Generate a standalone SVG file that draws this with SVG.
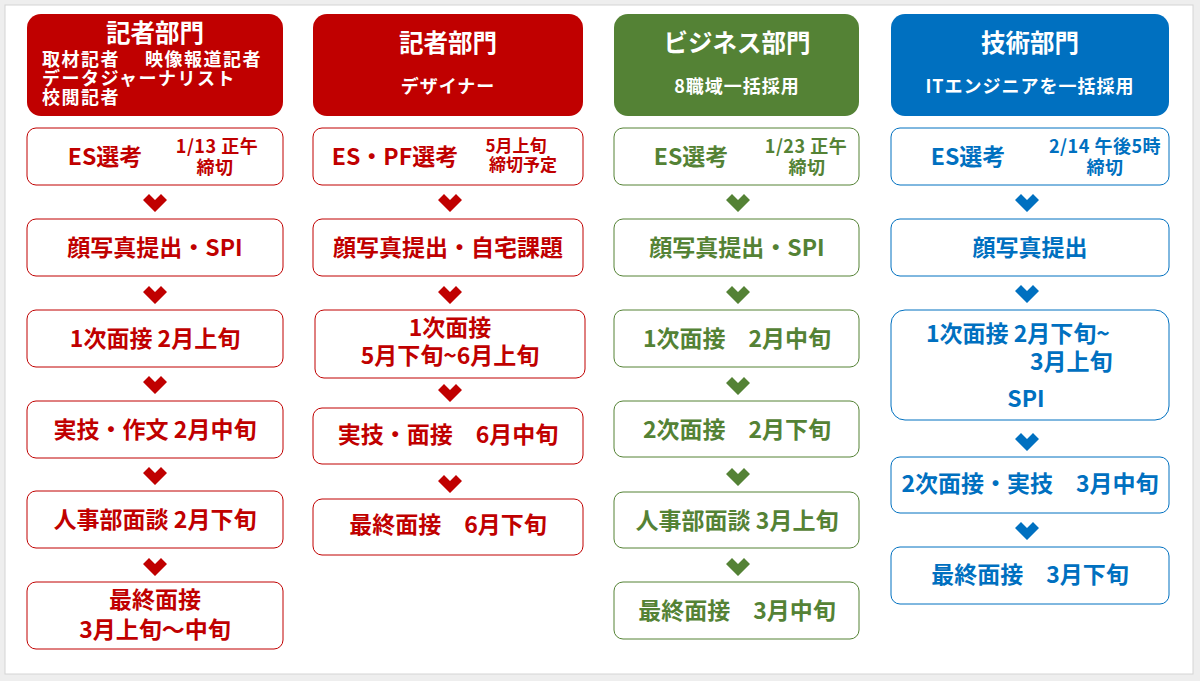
<svg xmlns="http://www.w3.org/2000/svg" xmlns:xlink="http://www.w3.org/1999/xlink" width="1200" height="681" viewBox="0 0 1200 681">
<defs>
<style>
text{font-family:"Noto Sans CJK JP","Noto Sans",sans-serif;font-weight:bold}
.ttl{font-size:24.5px;fill:#fff;text-anchor:middle}
.sub{font-size:18px;fill:#fff;text-anchor:middle;letter-spacing:1px}
.sub1{font-size:18px;fill:#fff;letter-spacing:1.5px}
.st{font-size:23px;text-anchor:middle}
.sm{font-size:18px;text-anchor:middle;letter-spacing:0.5px}
.sm2{font-size:17px;text-anchor:middle}
.r{fill:#C00000}.g{fill:#548235}.b{fill:#0070C0}
.br{fill:#fff;stroke:#C00000;stroke-width:1}
.bg{fill:#fff;stroke:#548235;stroke-width:1}
.bb{fill:#fff;stroke:#0070C0;stroke-width:1}
</style>
<path id="chev" d="M-12,-3 L-6,-9 L0,-3 L6,-9 L12,-3 L0,9 Z"/>
</defs>
<rect x="0" y="0" width="1200" height="681" fill="#eeeeee"/>
<rect x="5" y="5" width="1188" height="669" fill="#ffffff" stroke="#d4d4d4" stroke-width="1"/>

<g id="connectors">
<g class="r">
<use xlink:href="#chev" x="155" y="203"/>
<use xlink:href="#chev" x="155" y="295"/>
<use xlink:href="#chev" x="155" y="385"/>
<use xlink:href="#chev" x="155" y="476"/>
<use xlink:href="#chev" x="155" y="567"/>
<use xlink:href="#chev" x="450" y="203"/>
<use xlink:href="#chev" x="450" y="295"/>
<use xlink:href="#chev" x="450" y="393"/>
<use xlink:href="#chev" x="450" y="484"/>
</g>
<g class="g">
<use xlink:href="#chev" x="738" y="203"/>
<use xlink:href="#chev" x="738" y="295"/>
<use xlink:href="#chev" x="738" y="386"/>
<use xlink:href="#chev" x="738" y="477"/>
<use xlink:href="#chev" x="738" y="567"/>
</g>
<g class="b">
<use xlink:href="#chev" x="1027" y="203"/>
<use xlink:href="#chev" x="1027" y="294"/>
<use xlink:href="#chev" x="1027" y="442"/>
<use xlink:href="#chev" x="1027" y="531"/>
</g>
</g>

<!-- Column 1 -->
<g id="c1-header">
<rect x="27" y="14" width="256" height="102" rx="14" class="r"/>
<text class="ttl" x="155" y="42">記者部門</text>
<text class="sub1" x="42" y="66">取材記者<tspan x="145">映像報道記者</tspan></text>
<text class="sub1" x="42" y="85">データジャーナリスト</text>
<text class="sub1" x="42" y="104">校閲記者</text>
</g>
<g id="c1-es">
<rect x="27" y="128" width="256" height="57" rx="9" class="br"/>
<text class="st r" x="105" y="165">ES選考</text>
<text class="sm r" x="217" y="153">1/13 正午</text>
<text class="sm r" x="215" y="174">締切</text>
</g>
<g id="c1-s2">
<rect x="27" y="219" width="256" height="57" rx="9" class="br"/>
<text class="st r" x="155" y="256">顔写真提出・SPI</text>
</g>
<g id="c1-s3">
<rect x="27" y="310" width="256" height="57" rx="9" class="br"/>
<text class="st r" x="155" y="347">1次面接 2月上旬</text>
</g>
<g id="c1-s4">
<rect x="27" y="401" width="256" height="57" rx="9" class="br"/>
<text class="st r" x="155" y="438">実技・作文 2月中旬</text>
</g>
<g id="c1-s5">
<rect x="27" y="491" width="256" height="57" rx="9" class="br"/>
<text class="st r" x="155" y="528">人事部面談 2月下旬</text>
</g>
<g id="c1-s6">
<rect x="27" y="582" width="256" height="67" rx="9" class="br"/>
<text class="st r" x="155" y="608">最終面接</text>
<text class="st r" x="155" y="638">3月上旬～中旬</text>
</g>

<!-- Column 2 -->
<g id="c2-header">
<rect x="313" y="14" width="270" height="102" rx="14" class="r"/>
<text class="ttl" x="448" y="52">記者部門</text>
<text class="sub" x="448" y="93">デザイナー</text>
</g>
<g id="c2-es">
<rect x="313" y="128" width="270" height="57" rx="9" class="br"/>
<text class="st r" x="395" y="165">ES・PF選考</text>
<text class="sm2 r" x="516" y="152">5月上旬</text>
<text class="sm2 r" x="523" y="171">締切予定</text>
</g>
<g id="c2-s2">
<rect x="313" y="219" width="270" height="57" rx="9" class="br"/>
<text class="st r" x="448" y="256">顔写真提出・自宅課題</text>
</g>
<g id="c2-s3">
<rect x="315" y="310" width="270" height="68" rx="9" class="br"/>
<text class="st r" x="450" y="336">1次面接</text>
<text class="st r" x="450" y="364">5月下旬~6月上旬</text>
</g>
<g id="c2-s4">
<rect x="313" y="408" width="270" height="56" rx="9" class="br"/>
<text class="st r" x="448" y="443">実技・面接　6月中旬</text>
</g>
<g id="c2-s5">
<rect x="313" y="499" width="270" height="56" rx="9" class="br"/>
<text class="st r" x="448" y="533">最終面接　6月下旬</text>
</g>

<!-- Column 3 -->
<g id="c3-header">
<rect x="614" y="14" width="245" height="102" rx="14" class="g"/>
<text class="ttl" x="737" y="52">ビジネス部門</text>
<text class="sub" x="737" y="93">8職域一括採用</text>
</g>
<g id="c3-es">
<rect x="614" y="128" width="245" height="57" rx="9" class="bg"/>
<text class="st g" x="691" y="165">ES選考</text>
<text class="sm g" x="806" y="153">1/23 正午</text>
<text class="sm g" x="807" y="174">締切</text>
</g>
<g id="c3-s2">
<rect x="614" y="219" width="245" height="57" rx="9" class="bg"/>
<text class="st g" x="737" y="256">顔写真提出・SPI</text>
</g>
<g id="c3-s3">
<rect x="614" y="310" width="245" height="57" rx="9" class="bg"/>
<text class="st g" x="737" y="347">1次面接　2月中旬</text>
</g>
<g id="c3-s4">
<rect x="614" y="401" width="245" height="56" rx="9" class="bg"/>
<text class="st g" x="737" y="438">2次面接　2月下旬</text>
</g>
<g id="c3-s5">
<rect x="614" y="492" width="245" height="56" rx="9" class="bg"/>
<text class="st g" x="737" y="529">人事部面談 3月上旬</text>
</g>
<g id="c3-s6">
<rect x="614" y="582" width="245" height="57" rx="9" class="bg"/>
<text class="st g" x="737" y="619">最終面接　3月中旬</text>
</g>

<!-- Column 4 -->
<g id="c4-header">
<rect x="891" y="14" width="278" height="102" rx="14" class="b"/>
<text class="ttl" x="1030" y="52">技術部門</text>
<text class="sub" x="1030" y="93">ITエンジニアを一括採用</text>
</g>
<g id="c4-es">
<rect x="891" y="128" width="278" height="57" rx="9" class="bb"/>
<text class="st b" x="968" y="165">ES選考</text>
<text class="sm b" x="1105" y="153">2/14 午後5時</text>
<text class="sm b" x="1105" y="174">締切</text>
</g>
<g id="c4-s2">
<rect x="891" y="219" width="278" height="57" rx="9" class="bb"/>
<text class="st b" x="1030" y="256">顔写真提出</text>
</g>
<g id="c4-s3">
<rect x="891" y="310" width="278" height="110" rx="14" class="bb"/>
<text class="st b" x="926" y="342" style="text-anchor:start">1次面接  2月下旬~</text>
<text class="st b" x="1030" y="370" style="text-anchor:start">3月上旬</text>
<text class="st b" x="1026" y="407">SPI</text>
</g>
<g id="c4-s4">
<rect x="891" y="457" width="278" height="56" rx="9" class="bb"/>
<text class="st b" x="1030" y="492">2次面接・実技　3月中旬</text>
</g>
<g id="c4-s5">
<rect x="891" y="547" width="278" height="57" rx="9" class="bb"/>
<text class="st b" x="1030" y="583">最終面接　3月下旬</text>
</g>
</svg>
